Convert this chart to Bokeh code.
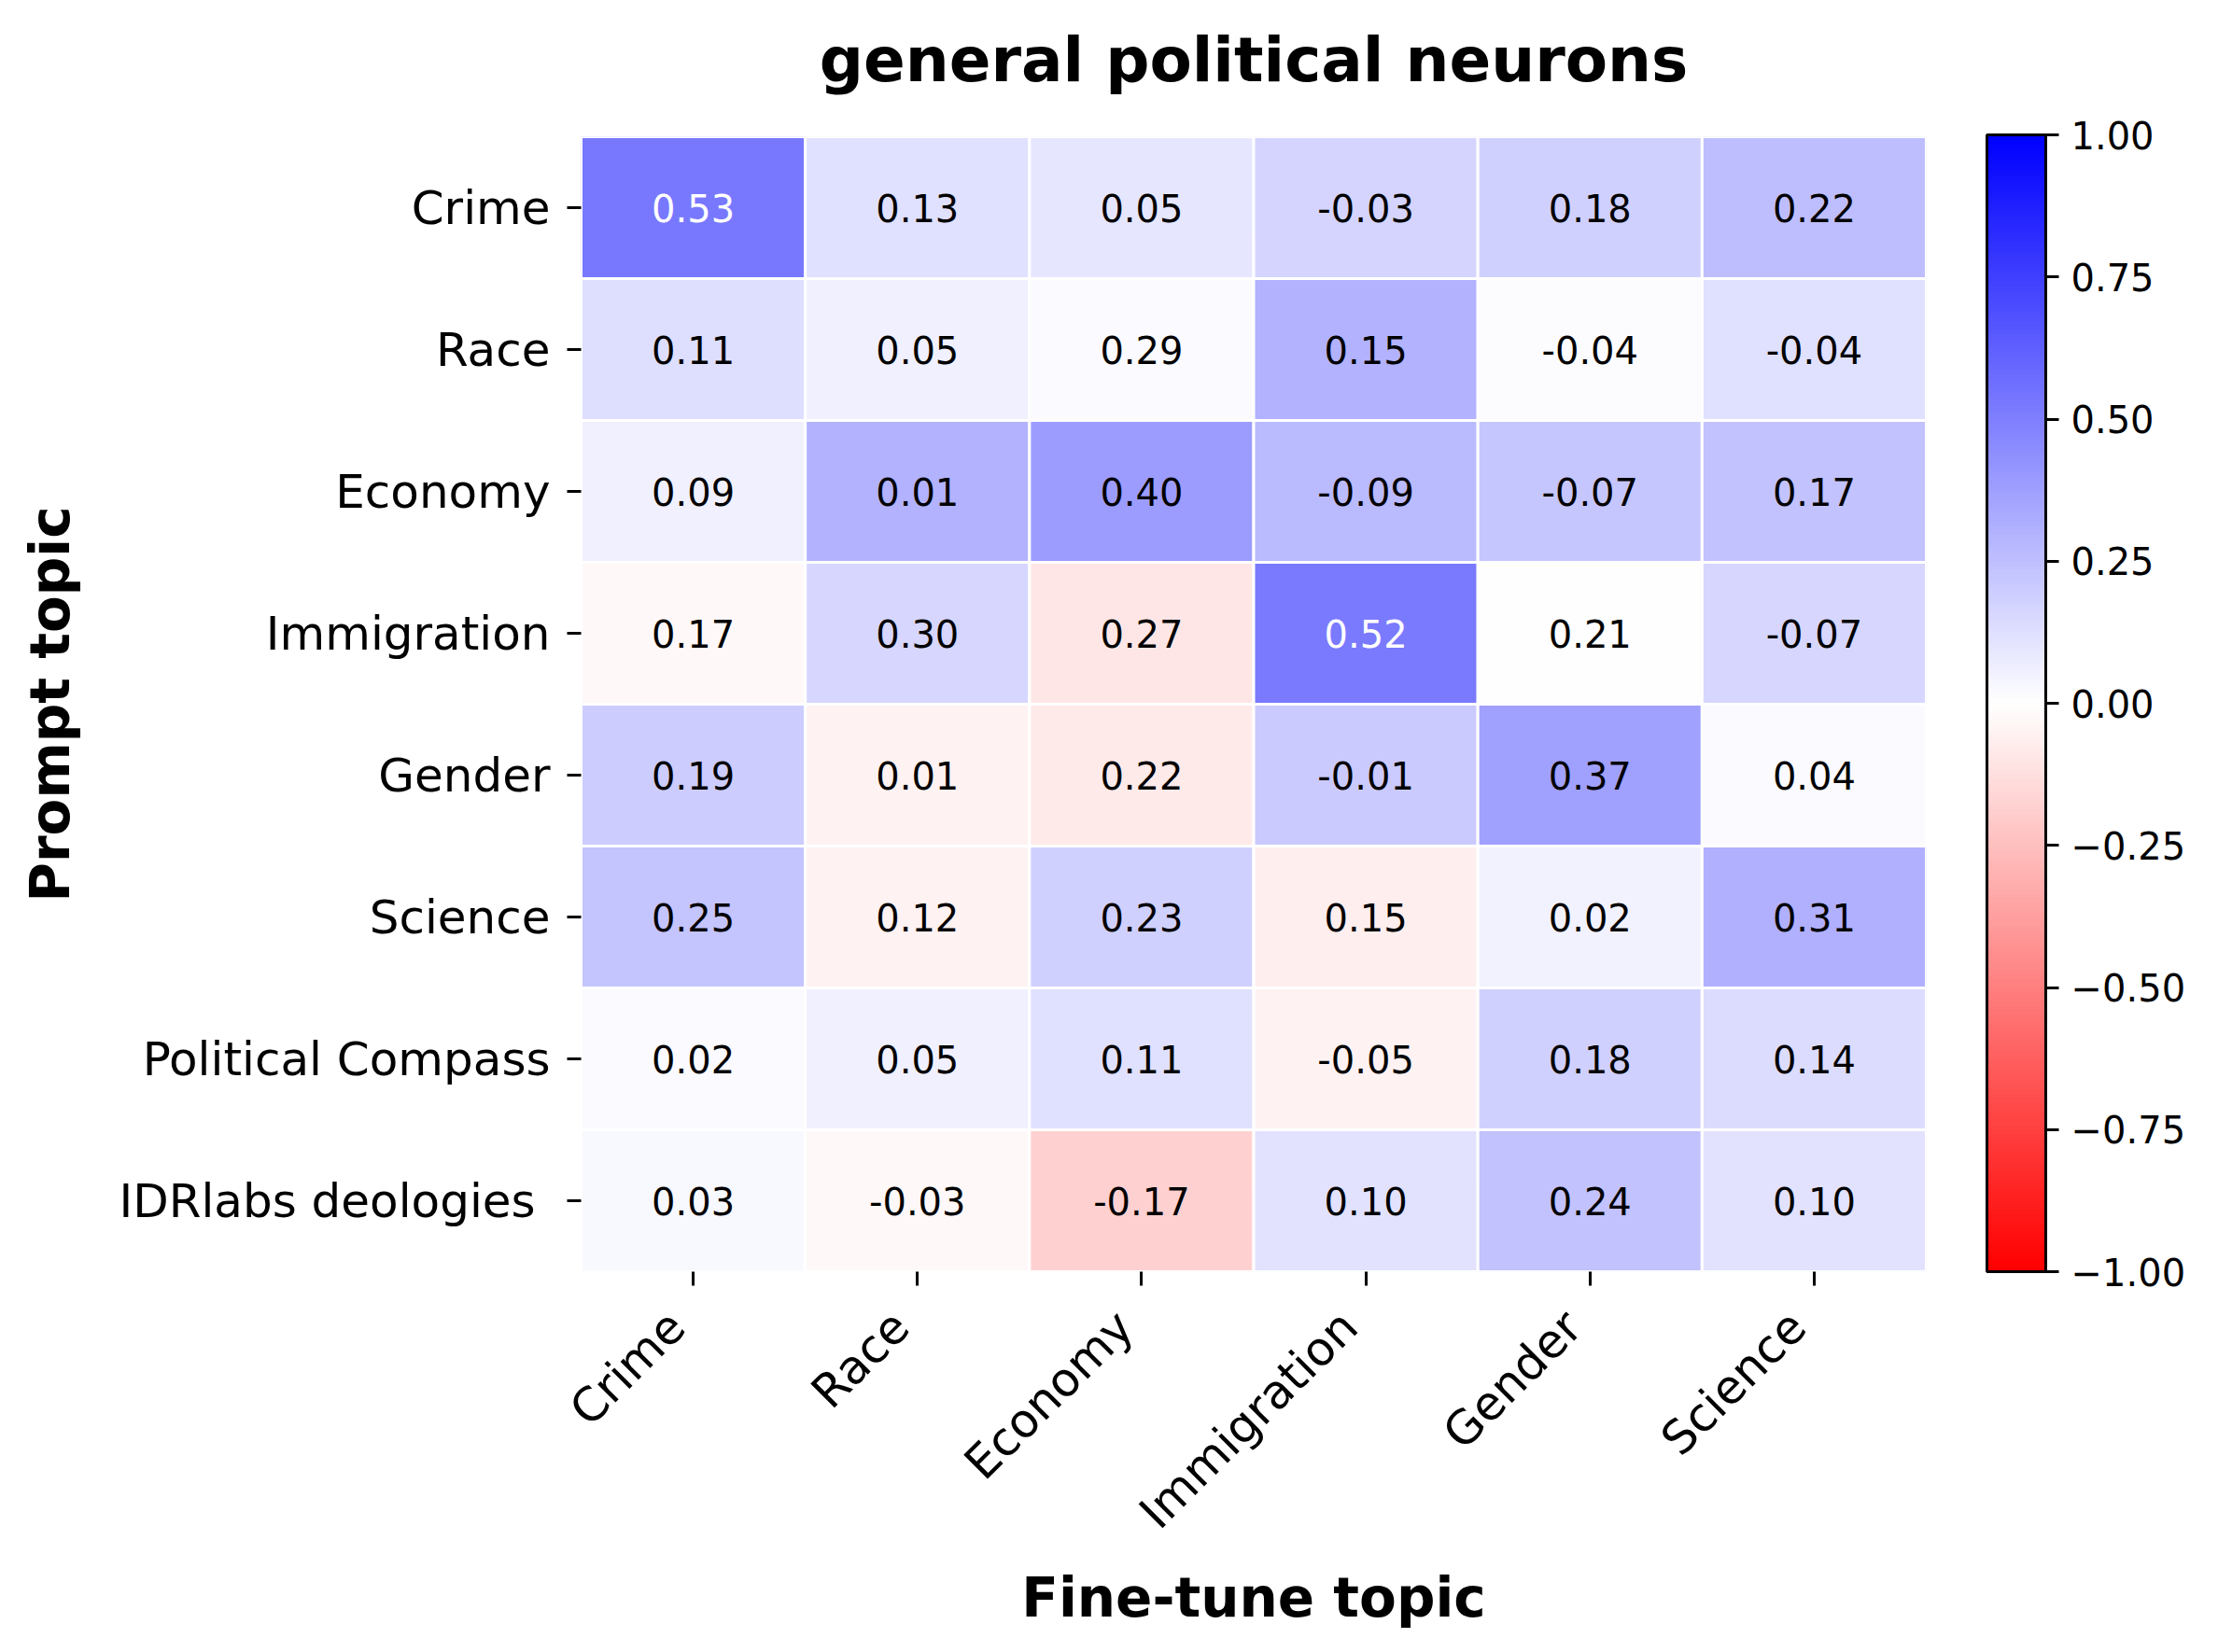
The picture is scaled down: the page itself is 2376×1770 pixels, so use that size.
from bokeh.plotting import figure
from bokeh.models import (ColumnDataSource, LinearColorMapper, ColorBar, FixedTicker,
                          CustomJSTickFormatter, FactorRange, Label)
from bokeh.embed import file_html
from bokeh.resources import INLINE
from bokeh.core.properties import value
import math

# ---------------- data ----------------
fine_tune_topics = ["Crime", "Race", "Economy", "Immigration", "Gender", "Science"]
prompt_topics = ["Crime", "Race", "Economy", "Immigration", "Gender", "Science",
                 "Political Compass", "IDRlabs deologies "]

# annotated numbers (as printed in each cell)
annot_crime       = [0.53, 0.13, 0.05, -0.03, 0.18, 0.22]
annot_race        = [0.11, 0.05, 0.29, 0.15, -0.04, -0.04]
annot_economy     = [0.09, 0.01, 0.40, -0.09, -0.07, 0.17]
annot_immigration = [0.17, 0.30, 0.27, 0.52, 0.21, -0.07]
annot_gender      = [0.19, 0.01, 0.22, -0.01, 0.37, 0.04]
annot_science     = [0.25, 0.12, 0.23, 0.15, 0.02, 0.31]
annot_compass     = [0.02, 0.05, 0.11, -0.05, 0.18, 0.14]
annot_idrlabs     = [0.03, -0.03, -0.17, 0.10, 0.24, 0.10]

# values behind the cell colours
color_crime       = [0.53, 0.12, 0.10, 0.17, 0.18, 0.25]
color_race        = [0.13, 0.06, 0.02, 0.30, 0.01, 0.12]
color_economy     = [0.06, 0.30, 0.39, 0.27, 0.22, 0.24]
color_immigration = [-0.03, 0.16, -0.10, 0.52, 0.00, 0.16]
color_gender      = [0.20, -0.05, -0.08, 0.21, 0.37, 0.02]
color_science     = [0.23, -0.05, 0.18, -0.07, 0.05, 0.31]
color_compass     = [0.02, 0.06, 0.12, -0.05, 0.18, 0.14]
color_idrlabs     = [0.03, -0.03, -0.18, 0.11, 0.24, 0.11]

annot_rows = [annot_crime, annot_race, annot_economy, annot_immigration,
              annot_gender, annot_science, annot_compass, annot_idrlabs]
color_rows = [color_crime, color_race, color_economy, color_immigration,
              color_gender, color_science, color_compass, color_idrlabs]

colorbar_ticks = [-1.0, -0.75, -0.5, -0.25, 0.0, 0.25, 0.5, 0.75, 1.0]

title_text = "general political neurons"

# ---------------- palette: reversed bwr ----------------
def bwr_r(n=256):
    out = []
    for i in range(n):
        v = -1 + 2 * i / (n - 1)
        if v < 0:
            g = int(round(255 * (1 + v)))
            out.append("#%02x%02x%02x" % (255, g, g))
        else:
            g = int(round(255 * (1 - v)))
            out.append("#%02x%02x%02x" % (g, g, 255))
    return out

palette = bwr_r()
mapper = LinearColorMapper(palette=palette, low=-1, high=1)

xs, ys, cs, labels, tcs = [], [], [], [], []
for r, row in enumerate(prompt_topics):
    for c, col in enumerate(fine_tune_topics):
        xs.append(col)
        ys.append(row)
        cv = color_rows[r][c]
        cs.append(cv)
        labels.append("%.2f" % annot_rows[r][c])
        tcs.append("white" if cv > 0.45 else "black")

src = ColumnDataSource(dict(x=xs, y=ys, c=cs, label=labels, tc=tcs))

FONT = "DejaVu Sans"

p = figure(x_range=FactorRange(factors=fine_tune_topics),
           y_range=FactorRange(factors=list(reversed(prompt_topics))),
           frame_width=1441, frame_height=1216,
           min_border_left=622, min_border_top=146, min_border_right=313, min_border_bottom=408,
           output_backend="svg", toolbar_location=None)

p.rect(x="x", y="y", width=1, height=1, source=src,
       fill_color={"field": "c", "transform": mapper},
       line_color="white", line_width=3)

p.text(x="x", y="y", text="label", source=src, text_color="tc",
       text_align="center", text_baseline="middle",
       text_font=value(FONT), text_font_size="40px")

# title: a label in the top panel, above the centre of the heatmap's top edge
n_cols = len(fine_tune_topics)
n_rows = len(prompt_topics)
title = Label(x=n_cols / 2, y=n_rows, x_units="data", y_units="data",
              text=title_text, text_align="center", text_baseline="alphabetic",
              y_offset=82, text_font=FONT, text_font_size="66px",
              text_font_style="bold", text_color="black")
p.add_layout(title, "above")

# general styling
p.outline_line_color = None
p.xgrid.grid_line_color = None
p.ygrid.grid_line_color = None
p.background_fill_color = "white"
p.border_fill_color = "white"

for ax in (p.xaxis[0], p.yaxis[0]):
    ax.axis_line_color = None
    ax.major_tick_in = 0
    ax.major_tick_out = 15
    ax.major_tick_line_width = 3
    ax.major_tick_line_color = "black"
    ax.minor_tick_line_color = None
    ax.major_label_text_font = FONT
    ax.major_label_text_font_size = "50px"
    ax.major_label_text_color = "black"
    ax.axis_label_text_font = FONT
    ax.axis_label_text_font_size = "58px"
    ax.axis_label_text_font_style = "bold"
    ax.axis_label_text_color = "black"

p.xaxis.axis_label = "Fine-tune topic"
p.yaxis.axis_label = "Prompt topic"
p.xaxis.major_label_orientation = math.pi / 4
# an en space after each rotated label, so that the label ends a little left of
# its tick, the way matplotlib's right-aligned rotated labels do
p.xaxis.formatter = CustomJSTickFormatter(code="return tick + '\u2002';")
p.xaxis.major_label_standoff = 18
p.xaxis.axis_label_standoff = 5
p.yaxis.major_label_standoff = 18
p.yaxis.axis_label_standoff = 36

cb = ColorBar(color_mapper=mapper,
              ticker=FixedTicker(ticks=colorbar_ticks),
              formatter=CustomJSTickFormatter(
                  code="return (tick < 0 ? '\u2212' : '') + Math.abs(tick).toFixed(2);"),
              width=63, height=1218, location=(65, 0), margin=0, padding=0,
              bar_line_color="black", bar_line_width=3,
              major_tick_in=0, major_tick_out=14,
              major_tick_line_color="black", major_tick_line_width=3,
              minor_tick_line_color=None,
              major_label_text_font=FONT, major_label_text_font_size="40px",
              major_label_text_color="black",
              label_standoff=13, border_line_color=None)
p.add_layout(cb, "right")

open("out.html", "w").write(file_html(p, INLINE))
